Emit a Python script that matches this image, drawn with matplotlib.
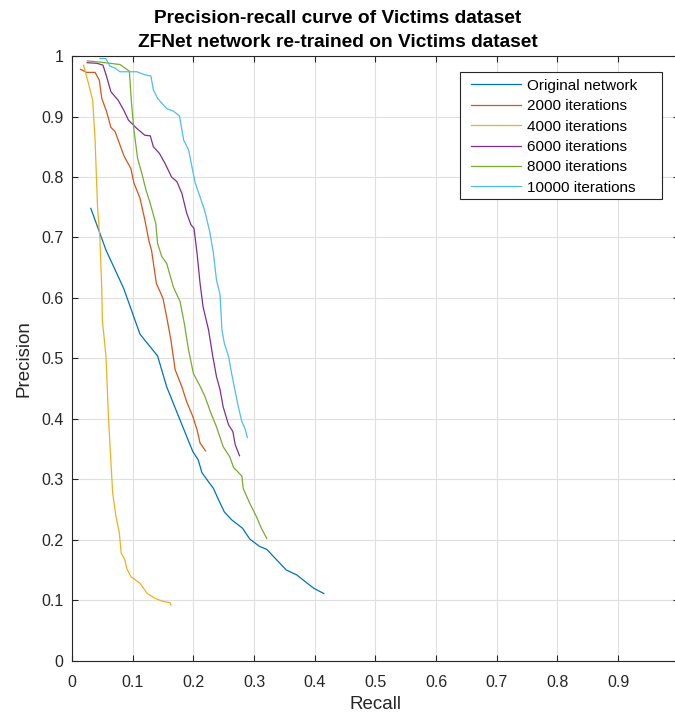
import matplotlib
matplotlib.use("Agg")
import matplotlib.pyplot as plt
from matplotlib.patches import Rectangle

# PR 曲线点（recall, precision）
orig_recall = [0.031, 0.056, 0.085, 0.112, 0.141, 0.156, 0.178, 0.199, 0.208, 0.214, 0.227,
               0.233, 0.241, 0.251, 0.263, 0.281, 0.293, 0.309, 0.321, 0.353, 0.370, 0.398, 0.415]
orig_prec = [0.748, 0.679, 0.616, 0.540, 0.504, 0.453, 0.398, 0.346, 0.332, 0.311, 0.293,
             0.285, 0.267, 0.246, 0.233, 0.219, 0.201, 0.189, 0.184, 0.150, 0.142, 0.120, 0.111]

it2000_recall = [0.014, 0.024, 0.038, 0.045, 0.049, 0.057, 0.064, 0.071, 0.079, 0.086, 0.097,
                 0.102, 0.112, 0.120, 0.127, 0.131, 0.139, 0.150, 0.157, 0.163, 0.170, 0.181,
                 0.189, 0.199, 0.206, 0.211, 0.220]
it2000_prec = [0.978, 0.973, 0.973, 0.960, 0.930, 0.908, 0.882, 0.875, 0.853, 0.834, 0.814,
               0.790, 0.765, 0.729, 0.693, 0.679, 0.624, 0.599, 0.563, 0.530, 0.481, 0.453,
               0.428, 0.404, 0.382, 0.360, 0.347]

it4000_recall = [0.019, 0.027, 0.034, 0.038, 0.042, 0.046, 0.049, 0.050, 0.056, 0.060, 0.063,
                 0.067, 0.0725, 0.078, 0.081, 0.087, 0.090, 0.097, 0.112, 0.124, 0.137, 0.150,
                 0.1615, 0.163]
it4000_prec = [0.985, 0.955, 0.927, 0.861, 0.751, 0.696, 0.616, 0.563, 0.503, 0.404, 0.348,
               0.277, 0.238, 0.211, 0.178, 0.167, 0.153, 0.139, 0.128, 0.111, 0.103, 0.098,
               0.096, 0.092]

it6000_recall = [0.025, 0.041, 0.051, 0.057, 0.064, 0.076, 0.085, 0.093, 0.107, 0.120, 0.129,
                 0.134, 0.144, 0.153, 0.164, 0.173, 0.181, 0.189, 0.196, 0.201, 0.206, 0.211,
                 0.216, 0.225, 0.232, 0.238, 0.244, 0.249, 0.258, 0.265, 0.269, 0.276]
it6000_prec = [0.989, 0.988, 0.985, 0.966, 0.941, 0.927, 0.911, 0.894, 0.880, 0.869, 0.868,
               0.850, 0.839, 0.823, 0.800, 0.792, 0.773, 0.740, 0.721, 0.715, 0.674, 0.624,
               0.585, 0.547, 0.503, 0.470, 0.448, 0.420, 0.390, 0.379, 0.357, 0.339]

it8000_recall = [0.025, 0.046, 0.079, 0.0945, 0.098, 0.102, 0.108, 0.115, 0.122, 0.129, 0.138,
                 0.141, 0.148, 0.156, 0.167, 0.178, 0.185, 0.192, 0.200, 0.210, 0.219, 0.229,
                 0.238, 0.249, 0.260, 0.266, 0.280, 0.282, 0.293, 0.304, 0.312, 0.321]
it8000_prec = [0.992, 0.990, 0.986, 0.975, 0.922, 0.878, 0.831, 0.806, 0.778, 0.756, 0.723,
               0.690, 0.668, 0.657, 0.618, 0.594, 0.558, 0.514, 0.475, 0.456, 0.437, 0.409,
               0.387, 0.354, 0.337, 0.320, 0.305, 0.285, 0.260, 0.238, 0.219, 0.202]

it10000_recall = [0.046, 0.0555, 0.063, 0.071, 0.079, 0.107, 0.120, 0.130, 0.134, 0.141, 0.156,
                  0.167, 0.177, 0.184, 0.192, 0.197, 0.203, 0.211, 0.219, 0.227, 0.233, 0.238,
                  0.244, 0.247, 0.251, 0.258, 0.263, 0.269, 0.274, 0.280, 0.285, 0.289]
it10000_prec = [0.996, 0.996, 0.983, 0.980, 0.974, 0.974, 0.969, 0.967, 0.944, 0.930, 0.913,
                0.909, 0.901, 0.861, 0.845, 0.820, 0.790, 0.767, 0.743, 0.709, 0.674, 0.630,
                0.605, 0.547, 0.525, 0.503, 0.475, 0.445, 0.420, 0.395, 0.384, 0.369]

series = [
    ("Original network", orig_recall, orig_prec, "#0072BD"),
    ("2000 iterations", it2000_recall, it2000_prec, "#D95319"),
    ("4000 iterations", it4000_recall, it4000_prec, "#EDB120"),
    ("6000 iterations", it6000_recall, it6000_prec, "#7E2F8E"),
    ("8000 iterations", it8000_recall, it8000_prec, "#77AC30"),
    ("10000 iterations", it10000_recall, it10000_prec, "#4DBEEE"),
]
ticks = [0, 0.1, 0.2, 0.3, 0.4, 0.5, 0.6, 0.7, 0.8, 0.9, 1]
tick_labels = ["0", "0.1", "0.2", "0.3", "0.4", "0.5", "0.6", "0.7", "0.8", "0.9", "1"]
title_lines = ["Precision-recall curve of Victims dataset",
               "ZFNet network re-trained on Victims dataset"]

plt.rcParams["font.family"] = ["Liberation Sans", "DejaVu Sans"]

fig = plt.figure(figsize=(6.75, 7.13), dpi=100)
ax = fig.add_axes([0.1067, 0.0734, 0.899, 0.848])

for name, xs, ys, c in series:
    ax.plot(xs, ys, color=c, linewidth=0.9, label=name)

ax.set_xlim(0, 1)
ax.set_ylim(0, 1)
ax.set_xticks(ticks)
ax.set_xticklabels(tick_labels)
ax.set_yticks(ticks)
ax.set_yticklabels(tick_labels)
ax.tick_params(direction="in", top=True, right=True, labelsize=11.5,
               colors="#262626", length=4, width=0.8, pad=6)
ax.tick_params(axis="x", pad=10)
for s in ax.spines.values():
    s.set_color("#262626")
    s.set_linewidth(0.8)
ax.grid(True, color="#dfdfdf", linewidth=0.8)
ax.set_axisbelow(True)

ax.set_xlabel("Recall", fontsize=13.5, color="#262626", labelpad=5)
ax.set_ylabel("Precision", fontsize=13.5, color="#262626", labelpad=6)
# 两行标题分开放，行距按参考图
fig.text(0.5, 0.9735, title_lines[0], ha="center", va="center", fontsize=13.8, fontweight="bold")
fig.text(0.5, 0.941, title_lines[1], ha="center", va="center", fontsize=13.8, fontweight="bold")

# MATLAB 风格图例框：右侧留白较多，框单独画
box = Rectangle((0.639, 0.763), 0.9715 - 0.639, 0.9735 - 0.763, transform=ax.transAxes,
                facecolor="white", edgecolor="#262626", linewidth=0.8, zorder=4)
ax.add_patch(box)
leg = ax.legend(loc="upper left", bbox_to_anchor=(0.657, 0.9625), borderaxespad=0,
                fontsize=11, frameon=False, handlelength=3.3, borderpad=0,
                labelspacing=0.42, handletextpad=0.4)
leg.set_zorder(5)

fig.savefig("out.png", dpi=100)
